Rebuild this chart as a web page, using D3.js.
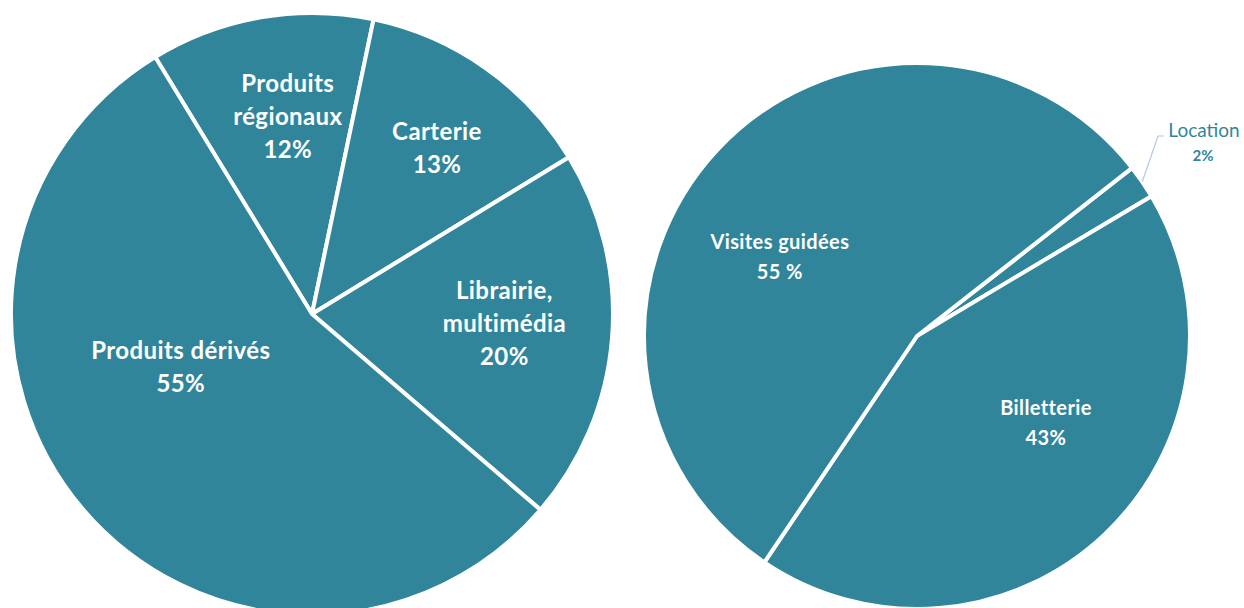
<!DOCTYPE html>
<html>
<head>
<meta charset="utf-8">
<script src="https://cdn.jsdelivr.net/npm/d3@7"></script>
<style>
  body { margin: 0; background: #fff; }
  svg { display: block; font-family: Lato, "Open Sans", sans-serif; }
</style>
</head>
<body>
<svg id="chart" width="1244" height="608"></svg>
<script>
// left pie: shop revenue split
const shopLabels = [['Produits', 'régionaux'], ['Carterie'], ['Librairie,', 'multimédia'], ['Produits dérivés']];
const shopValues = [12, 13, 20, 55];
const shopPct = ['12%', '13%', '20%', '55%'];

// right pie: services revenue split
const serviceLabels = [['Location'], ['Billetterie'], ['Visites guidées']];
const serviceValues = [2, 43, 55];
const servicePct = ['2%', '43%', '55 %'];

const fill = '#31859b';
const svg = d3.select('#chart');

// label anchors (angle in deg from 12 o'clock, distance as fraction of radius)
const shopLabelPos = [[-7, 0.66], [37, 0.69], [93, 0.64], [-112, 0.47]];
const serviceLabelPos = [null, [124, 0.57], [-60, 0.58]];

function drawPie(cfg) {
  const g = svg.append('g').attr('transform', `translate(${cfg.cx},${cfg.cy})`);
  const pie = d3.pie().sort(null).value(d => d)
    .startAngle(cfg.start * Math.PI / 180)
    .endAngle(cfg.start * Math.PI / 180 + 2 * Math.PI);
  const arc = d3.arc().innerRadius(0).outerRadius(cfg.r);
  const arcs = pie(cfg.values);

  g.selectAll('path.slice')
    .data(arcs)
    .enter()
    .append('path')
    .attr('class', 'slice')
    .attr('d', arc)
    .attr('fill', fill)
    .attr('stroke', '#fff')
    .attr('stroke-width', 4)
    .attr('stroke-linejoin', 'round');

  arcs.forEach((a, i) => {
    const pos = cfg.labelPos[i];
    if (!pos) return;
    const ang = pos[0] * Math.PI / 180;
    const x = Math.sin(ang) * cfg.r * pos[1];
    const y = -Math.cos(ang) * cfg.r * pos[1];
    const lines = cfg.labels[i].concat([cfg.pct[i]]);
    const t = g.append('text')
      .attr('text-anchor', 'middle')
      .attr('fill', '#fff')
      .attr('font-weight', 700)
      .attr('letter-spacing', cfg.spacing)
      .attr('font-size', cfg.fontSize);
    const offset = (lines.length - 1) / 2;
    lines.forEach((ln, j) => {
      t.append('tspan')
        .attr('x', x)
        .attr('y', y + (j - offset) * cfg.lineH)
        .attr('dy', '0.35em')
        .text(ln);
    });
  });
  return {g, arcs, arc};
}

drawPie({
  cx: 312, cy: 314, r: 301, start: -31.4,
  values: shopValues, labels: shopLabels, pct: shopPct,
  labelPos: shopLabelPos, fontSize: 24, lineH: 33, spacing: 0.4
});

const right = drawPie({
  cx: 917, cy: 336, r: 273, start: 52,
  values: serviceValues, labels: serviceLabels, pct: servicePct,
  labelPos: serviceLabelPos, fontSize: 20, lineH: 30, spacing: 0.4
});

// outside label for the tiny slice
const loc = right.arcs[0];
const midA = (loc.startAngle + loc.endAngle) / 2;
const p0 = [Math.sin(midA) * 273, -Math.cos(midA) * 273];
const p1 = [241, -200];
const p2 = [247, -200];
right.g.append('polyline')
  .attr('points', [p0, p1, p2].map(p => p.join(',')).join(' '))
  .attr('fill', 'none')
  .attr('stroke', '#b4c7e7')
  .attr('stroke-width', 1.2);
right.g.append('text')
  .attr('x', 287).attr('y', -206).attr('dy', '0.35em')
  .attr('text-anchor', 'middle')
  .attr('fill', fill)
  .attr('font-size', 19)
  .text(serviceLabels[0][0]);
right.g.append('text')
  .attr('x', 286).attr('y', -180).attr('dy', '0.35em')
  .attr('text-anchor', 'middle')
  .attr('fill', fill)
  .attr('font-weight', 700)
  .attr('font-size', 15)
  .text(servicePct[0]);
</script>
</body>
</html>
